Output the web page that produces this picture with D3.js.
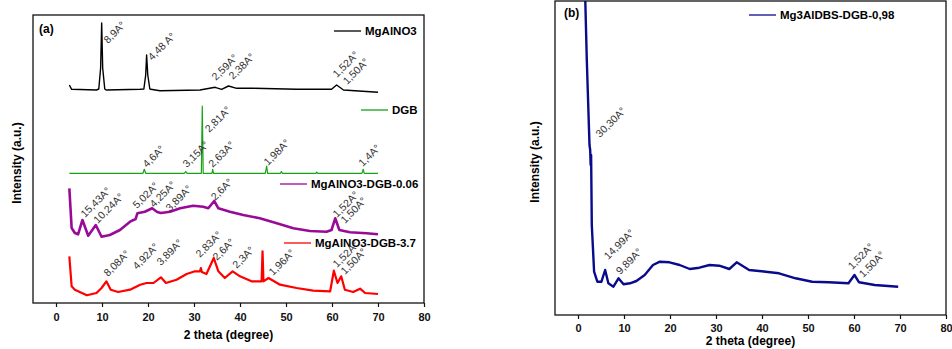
<!DOCTYPE html>
<html>
<head>
<meta charset="utf-8">
<style>
  body { margin: 0; background: #fff; }
  svg text { font-family: "Liberation Sans", Arial, sans-serif; }
  .tick-lbl { font-size: 11px; font-weight: bold; }
  .ttl { font-size: 12px; font-weight: bold; }
  .pk { font-size: 10.5px; fill: #333; }
  .leg { font-size: 11.5px; font-weight: bold; }
</style>
</head>
<body>
<script src="https://cdn.jsdelivr.net/npm/d3@7"></script>
<script>

// ---- data: [2theta, intensity (a.u., curves stacked)] ----
var xTicks = [0, 10, 20, 30, 40, 50, 60, 70, 80];

var mgalno3 = [[2.9,218],[3.4,213.7],[8.8,213],[9.3,214],[9.7,235],[9.93,280],[10.15,235],[10.6,214],[10.9,213],
  [18.3,213.7],[19.1,214],[19.5,228],[19.7,248],[19.95,228],[20.4,214],[20.6,213.7],[22.6,212.3],[31.3,213],
  [34.6,215.7],[36,213.7],[37.5,217],[39.3,214.7],[42.9,214.7],[52.3,213.7],[59.9,213.7],[61,218],[62.5,213],[70,210.7]];

var dgb = [[2.9,129.7],[18.9,129.7],[19.2,133.7],[19.5,129.7],[27.9,129.7],[28.2,131.5],[28.5,129.7],[31.6,129.7],
  [31.8,197],[32.0,129.7],[33.9,129.7],[34.06,133.7],[34.25,129.7],[45.5,129.7],[45.8,137],[46.0,129.7],
  [48.8,129.7],[49,131.5],[49.2,129.7],[56.5,129.7],[56.7,131],[56.9,129.7],[66.5,129.7],[66.8,133.7],[67.0,129.7],[70,129.7]];

var dgb006 = [[2.9,114.7],[3.4,75],[4.1,70],[4.8,68.7],[5.75,83],[7.0,67.3],[8.65,78],[9.9,66.3],[11.7,68],
  [13.9,73],[16.1,81.3],[17.3,84],[17.7,89.7],[19.3,91.3],[20.9,94.7],[22.0,91],[22.8,90],[24.8,91.3],[27,94.7],
  [29.8,97.3],[32,96.3],[33.1,94.7],[34.4,102],[35.3,94.7],[37.8,91.3],[40.7,88],[44.3,84.7],[48,79.7],[51.6,74.7],
  [55.2,72],[58.8,71.3],[59.9,73],[60.7,84.7],[61.6,73],[63.9,70.7],[67.5,69.7],[70,68.7]];

var dgb37 = [[2.9,46.7],[3.4,16.7],[4.1,13.3],[6.7,7.7],[8.8,10],[9.9,15],[10.95,21.7],[11.9,13.3],[13.5,11],
  [16.1,13.3],[18.3,18.3],[19.7,20],[21.2,20],[22.8,25.7],[23.9,20],[26.2,23.3],[28.4,29],[30.2,31.7],[31.3,31.7],
  [31.5,35],[31.7,31],[32.7,29],[34.3,45],[35.3,31.7],[36.7,25],[38.4,31.7],[40,26.7],[42.5,21.7],[44.7,21.7],
  [44.9,51.7],[45.1,21.7],[46.2,25],[48.7,18.3],[52.3,15],[55.9,12.3],[59.6,11.7],[60.4,32.3],[61.2,20],[62,26.7],
  [62.8,13.3],[64.6,11],[66.1,14.3],[67.2,10],[70,9]];

var mg3aldbs = [[1.5,330],[1.9,257],[2.5,170],[2.65,165],[2.75,150],[2.85,160],[3.0,90],[3.5,43.3],[4.2,33.3],
  [5.1,33.3],[5.9,45],[6.6,31.7],[7.7,28.3],[8.8,36.7],[9.9,30.7],[11.3,31.7],[12.7,34],[14.5,40],[16.3,50],
  [17.8,53.3],[19.9,52.7],[22.1,50],[24.3,46],[26.4,47.3],[28.6,50],[30.7,49.3],[32.9,46],[34.5,52.7],[37.2,45],
  [40.8,43.3],[43.7,41.7],[47.3,36.7],[50.9,33.3],[54.5,32.7],[58.8,31.7],[60.1,40],[61.1,32.7],[64.5,30],[69.6,28.3]];

// peak labels: [2theta, intensity, text]
var lblA = [[11.3,259,"8,9A°"],[20.9,242,"4,48 A°"],[34.8,222,"2,59A°"],[38.5,223,"2,38A°"],[61.1,225,"1,52A°"],[63.3,218,"1,50A°"],
  [33.3,170,"2,81A°"],[19.8,135,"4,6A°"],[28.5,135,"3,15A°"],[34.1,135,"2,63A°"],[46.1,137,"1,98A°"],[66.7,136,"1,4A°"],
  [6.3,85,"15,43A°"],[9.1,79,"10,24A°"],[17.6,94,"5,02A°"],[21.3,95,"4,25A°"],[24.8,91,"3,89A°"],[34.6,102,"2,6A°"],[61.1,85,"1,52A°"],[62.8,79,"1,50A°"],
  [11.3,26,"8,08A°"],[17.6,33,"4,92A°"],[22.8,37,"3,89A°"],[31.3,45,"2,83A°"],[35.0,42,"2,6A°"],[39.3,34,"2,3A°"],[47.2,27,"1,96A°"],[61.1,35,"1,52A°"],[62.8,28,"1,50A°"]];
var lblB = [[4.8,177,"30,30A°"],[6.6,55,"14,99A°"],[9.2,40,"9,89A°"],[59.6,45,"1,52A°"],[62.0,37,"1,50A°"]];

var seriesA = [
  {name: "MgAlNO3", data: mgalno3, color: "#000000", w: 1.4, leg: [334, 31]},
  {name: "DGB", data: dgb, color: "#17a317", w: 1.2, leg: [361, 110]},
  {name: "MgAlNO3-DGB-0.06", data: dgb006, color: "#990a99", w: 2.6, leg: [280, 184]},
  {name: "MgAlNO3-DGB-3.7", data: dgb37, color: "#ff0000", w: 2.2, leg: [284, 243]}
];
var seriesB = [
  {name: "Mg3AlDBS-DGB-0,98", data: mg3aldbs, color: "#0a0a8c", w: 2.4, leg: [749, 15]}
];

var svg = d3.select("body").append("svg").attr("width", 952).attr("height", 349);

function panel(o) {
  var x = d3.scaleLinear().domain([-5, 80]).range([o.left, o.right]);
  var y = d3.scaleLinear().domain([0, o.bottom - o.top]).range([o.bottom, o.top]);
  var g = svg.append("g");

  g.append("clipPath").attr("id", o.id).append("rect")
    .attr("x", o.left).attr("y", o.top).attr("width", o.right - o.left).attr("height", o.bottom - o.top);

  var line = d3.line().x(d => x(d[0])).y(d => y(d[1]));
  o.series.forEach(function(s) {
    g.append("path").attr("d", line(s.data)).attr("fill", "none")
      .attr("stroke", s.color).attr("stroke-width", s.w).attr("stroke-linejoin", "round")
      .attr("clip-path", "url(#" + o.id + ")");
    g.append("line").attr("x1", s.leg[0]).attr("x2", s.leg[0] + 27).attr("y1", s.leg[1]).attr("y2", s.leg[1])
      .attr("stroke", s.color).attr("stroke-width", 1.3);
    g.append("text").attr("class", "leg").attr("x", s.leg[0] + 31).attr("y", s.leg[1] + 4).text(s.name);
  });

  o.labels.forEach(function(l) {
    g.append("text").attr("class", "pk")
      .attr("transform", `translate(${x(l[0])},${y(l[1])}) rotate(-45)`).text(l[2]);
  });

  // frame
  g.append("rect").attr("x", o.left).attr("y", o.top).attr("width", o.right - o.left).attr("height", o.bottom - o.top)
    .attr("fill", "none").attr("stroke", "#111").attr("stroke-width", 1.3);

  // bottom axis: major + minor ticks
  var ax = g.append("g").attr("transform", `translate(0,${o.bottom})`);
  ax.call(d3.axisBottom(x).tickValues(d3.range(-5, 81, 5)).tickSize(4).tickFormat(""));
  ax.call(d3.axisBottom(x).tickValues(xTicks).tickSize(4).tickPadding(o.pad));
  ax.select(".domain").remove();
  ax.selectAll("line").attr("stroke", "#111").attr("stroke-width", 1.2);
  ax.selectAll("text").attr("class", "tick-lbl").attr("fill", "#111").attr("font-size", null).attr("font-family", null);

  g.append("text").attr("class", "ttl").attr("text-anchor", "middle")
    .attr("x", (o.left + o.right) / 2).attr("y", o.bottom + o.tgap).text("2 theta (degree)");
  g.append("text").attr("class", "ttl").attr("text-anchor", "middle")
    .attr("transform", `translate(${o.ylx},${(o.top + o.bottom) / 2 + 4}) rotate(-90)`).text("Intensity (a.u.)");
  g.append("text").attr("class", "ttl").attr("x", o.tag[0]).attr("y", o.tag[1]).text(o.tagText);
}

panel({id: "ca", left: 33, right: 424, top: 15, bottom: 303, series: seriesA, labels: lblA, ylx: 21, pad: 6, tgap: 36, tag: [39, 33], tagText: "(a)"});
panel({id: "cb", left: 555, right: 946, top: 1, bottom: 315, series: seriesB, labels: lblB, ylx: 539, pad: 5, tgap: 30, tag: [564, 17], tagText: "(b)"});

</script>
</body>
</html>
